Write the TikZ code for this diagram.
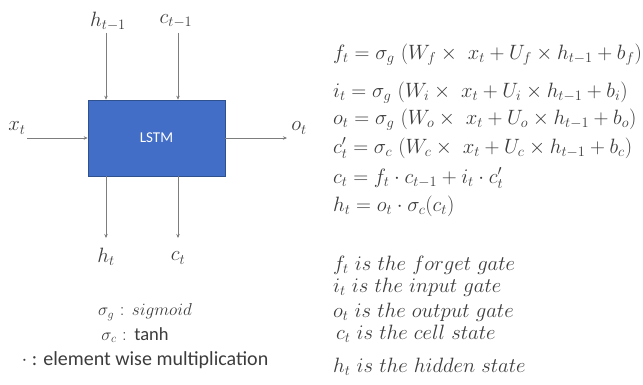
\documentclass[tikz,border=0pt]{standalone}
\usepackage{fontspec}
\setsansfont{Carlito}
\usetikzlibrary{arrows.meta}
\definecolor{boxblue}{RGB}{66,110,200}
\definecolor{boxedge}{RGB}{47,82,143}
\definecolor{linegray}{RGB}{125,125,125}
\definecolor{txtgray}{RGB}{60,60,60}
\begin{document}
\begin{tikzpicture}[x=1pt,y=-1pt,
  conn/.style={draw=linegray, line width=0.6pt, -{Stealth[length=4pt,width=3.5pt]}},
  lbl/.style={inner sep=0pt, text=txtgray, font=\fontsize{21}{23}\selectfont},
  eq/.style={anchor=west, inner sep=0pt, text=txtgray, font=\fontsize{20.5}{23}\selectfont},
  legm/.style={inner sep=0pt, text=txtgray, font=\fontsize{18.5}{20}\selectfont},
  leg/.style={inner sep=0pt, text=txtgray, font=\sffamily\fontsize{20}{22}\selectfont}]
\useasboundingbox (0,0) rectangle (643,385);
% LSTM box
\node[draw=boxedge, fill=boxblue, line width=0.6pt, minimum width=137pt, minimum height=76pt, inner sep=0pt,
      text=white, font=\sffamily\fontsize{15}{17}\selectfont] (lstm) at (156.5,138) {LSTM};
% inputs on top
\node[lbl] (hprev) at (108,21) {$h_{t-1}$};
\node[lbl] (cprev) at (176,21) {$c_{t-1}$};
\coordinate (hin) at (106,33);
\coordinate (cin) at (178,33);
\draw[conn] (hin) -- (hin |- lstm.north);
\draw[conn] (cin) -- (cin |- lstm.north);
% outputs at bottom
\coordinate (hout) at (106,238);
\coordinate (cout) at (178,238);
\draw[conn] (hout |- lstm.south) -- (hout);
\draw[conn] (cout |- lstm.south) -- (cout);
\node[lbl] (ht) at (106,257) {$h_t$};
\node[lbl] (ct) at (178,258) {$c_t$};
% side arrows
\node[lbl] (xt) at (17,128) {$x_t$};
\coordinate (xin) at (27,138);
\draw[conn] (xin) -- (xin -| lstm.west);
\coordinate (oout) at (287,138);
\draw[conn] (oout -| lstm.east) -- (oout);
\node[lbl] (ot) at (299,128) {$o_t$};
% legend
\node[legm] (sg) at (145,312) {$\sigma_g$ : $sigmoid$};
\node[legm] (sc) at (135,335) {$\sigma_c$ : \textsf{tanh}};
\node[leg] (em) at (145,360) {$\cdot$ : element wise multiplication};
% equations
\node[eq] (e1) at (333,55) {$f_t = \sigma_g\ (W_f \times\ x_t + U_f \times h_{t-1} + b_f)$};
\node[eq] (e2) at (333,93) {$i_t = \sigma_g\ (W_i \times\ x_t + U_i \times h_{t-1} + b_i)$};
\node[eq] (e3) at (333,120) {$o_t = \sigma_g\ (W_o \times\ x_t + U_o \times h_{t-1} + b_o)$};
\node[eq] (e4) at (333,148) {$c'_t = \sigma_c\ (W_c \times\ x_t + U_c \times h_{t-1} + b_c)$};
\node[eq] (e5) at (333,178) {$c_t = f_t \cdot c_{t-1} + i_t \cdot c'_t$};
\node[eq] (e6) at (333,206) {$h_t = o_t \cdot \sigma_c(c_t)$};
% descriptions
\node[eq] (d1) at (333,265) {$f_t\ is\ the\ forget\ gate$};
\node[eq] (d2) at (333,287) {$i_t\ is\ the\ input\ gate$};
\node[eq] (d3) at (333,312) {$o_t\ is\ the\ output\ gate$};
\node[eq] (d4) at (336,334) {$c_t\ is\ the\ cell\ state$};
\node[eq] (d5) at (333,367) {$h_t\ is\ the\ hidden\ state$};
\end{tikzpicture}
\end{document}
